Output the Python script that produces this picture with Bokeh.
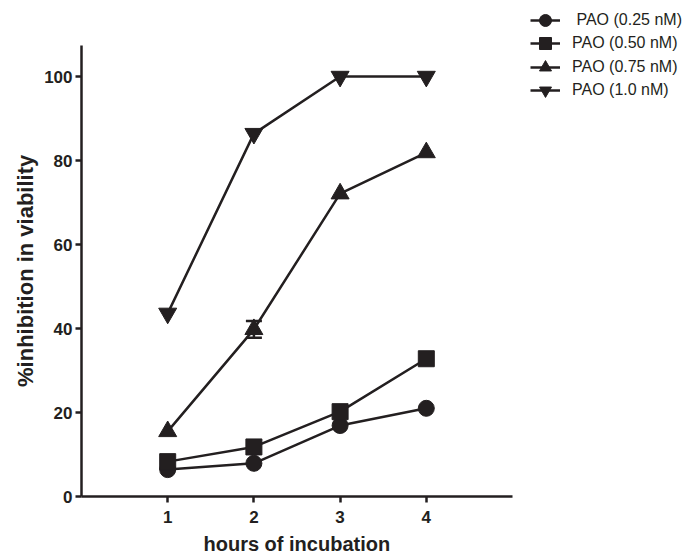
from bokeh.plotting import figure
from bokeh.models import (ColumnDataSource, Whisker, Legend, LegendItem, FixedTicker,
                          TeeHead, Title)
from bokeh.embed import file_html
from bokeh.resources import INLINE

hours = [1, 2, 3, 4]
pao_025 = [6.4, 7.9, 16.9, 21.0]
pao_050 = [8.3, 11.8, 20.2, 32.8]
pao_075 = [15.5, 39.8, 72.1, 81.9]
pao_100 = [43.6, 86.4, 100.0, 100.0]
err_075 = [0.0, 2.0, 0.0, 0.0]

labels = [" PAO (0.25 nM)", "PAO (0.50 nM)", "PAO (0.75 nM)", "PAO (1.0 nM)"]
markers = ["circle", "square", "triangle", "inverted_triangle"]
sizes = [16, 16, 18, 18]
x_ticks = [1, 2, 3, 4]
y_ticks = [0, 20, 40, 60, 80, 100]
x_axis_end = 5
y_axis_end = 107.4
x_title = "hours of incubation"
y_title = "%inhibition in viability"

INK = "#231f20"
FONT = "Liberation Sans"

# layout (pixels)
W, H = 688, 558
LEFT, BOTTOM = 81, 62
FW, FH = W - LEFT, H - BOTTOM
PX_X, PX_Y = 86.2, 4.2  # pixels per data unit

p = figure(width=W, height=H, frame_width=FW, frame_height=FH,
           x_range=(0, FW / PX_X), y_range=(0, FH / PX_Y),
           output_backend="svg", toolbar_location=None,
           min_border_left=LEFT, min_border_top=0, min_border_bottom=BOTTOM,
           min_border_right=0)
p.outline_line_color = None
p.xgrid.visible = False
p.ygrid.visible = False
p.background_fill_color = "white"
p.border_fill_color = "white"

# error bar
ex = [h for h, e in zip(hours, err_075) if e > 0]
eu = [v + e for v, e in zip(pao_075, err_075) if e > 0]
el = [v - e for v, e in zip(pao_075, err_075) if e > 0]
esrc = ColumnDataSource(dict(x=ex, upper=eu, lower=el))
wh = Whisker(base="x", upper="upper", lower="lower", source=esrc,
             line_color=INK, line_width=2.5,
             upper_head=TeeHead(size=16, line_color=INK, line_width=2.5),
             lower_head=TeeHead(size=16, line_color=INK, line_width=2.5))
p.add_layout(wh)

# one small legend per series, stacked
ROW0, PITCH, GH, GW = 20, 23.4, 34, 30
for i, (ys, lab, mk, sz) in enumerate(zip([pao_025, pao_050, pao_075, pao_100],
                                          labels, markers, sizes)):
    src = ColumnDataSource(dict(x=hours, y=ys))
    r1 = p.line("x", "y", source=src, line_color=INK, line_width=2.5)
    r2 = p.scatter("x", "y", source=src, marker=mk, size=sz,
                   fill_color=INK, line_color=INK, line_width=1)
    centre = ROW0 + PITCH * i
    lg = Legend(items=[LegendItem(label=lab, renderers=[r1, r2])],
                location=(449, FH - (centre + GH / 2)),
                label_text_font=FONT, label_text_font_size="16px",
                label_text_color=INK, glyph_width=GW, glyph_height=GH,
                label_height=20, spacing=0, padding=0, margin=0,
                label_standoff=12, border_line_color=None,
                background_fill_alpha=0)
    p.add_layout(lg)

for ax in (p.xaxis[0], p.yaxis[0]):
    ax.axis_line_color = INK
    ax.axis_line_width = 2.5
    ax.major_tick_line_color = INK
    ax.major_tick_line_width = 2.5
    ax.major_tick_out = 6
    ax.major_tick_in = 0
    ax.minor_tick_line_color = None
    ax.major_label_text_font = FONT
    ax.major_label_text_font_style = "bold"
    ax.major_label_text_font_size = "17px"
    ax.major_label_text_color = INK

p.xaxis.bounds = (0, x_axis_end)
p.yaxis.bounds = (0, y_axis_end)
p.xaxis.ticker = FixedTicker(ticks=x_ticks)
p.yaxis.ticker = FixedTicker(ticks=y_ticks)
p.xaxis.major_label_standoff = 8
p.yaxis.major_label_standoff = 3

# axis titles centred on the drawn axis lines (approx. text lengths in px)
x_title_len = 187
y_title_len = 232
tx = Title(text=x_title, align="left",
           offset=PX_X * x_axis_end / 2 - x_title_len / 2, standoff=11,
           text_font=FONT, text_font_style="bold", text_font_size="20px",
           text_color=INK)
ty = Title(text=y_title, align="left",
           offset=PX_Y * y_axis_end / 2 - y_title_len / 2, standoff=8,
           text_font=FONT, text_font_style="bold", text_font_size="22px",
           text_color=INK)
p.add_layout(tx, "below")
p.add_layout(ty, "left")

open("out.html", "w").write(file_html(p, INLINE))
